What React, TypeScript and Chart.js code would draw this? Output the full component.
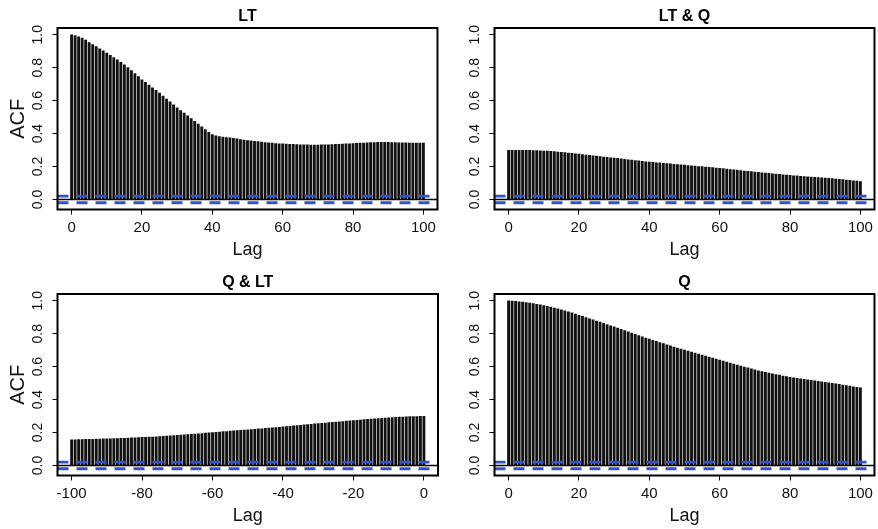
import React, { useEffect, useRef } from "react";
import { Chart, registerables } from "chart.js";

Chart.register(...registerables);

// ---------- data ----------
const TITLES = ["LT", "LT & Q", "Q & LT", "Q"];

const LAGS_POS = Array.from({ length: 101 }, (_, i) => i);
const LAGS_NEG = Array.from({ length: 101 }, (_, i) => i - 100);

const X_TICKS_POS = [0, 20, 40, 60, 80, 100];
const X_TICKS_NEG = [-100, -80, -60, -40, -20, 0];
const Y_TICKS = [0, 0.2, 0.4, 0.6, 0.8, 1.0];

const CI = 0.02;

const ACF_LT = [
  1.0, 0.995, 0.988, 0.98, 0.967, 0.953, 0.941, 0.928, 0.915, 0.902,
  0.889, 0.875, 0.861, 0.847, 0.833, 0.818, 0.8, 0.783, 0.765, 0.746,
  0.727, 0.711, 0.694, 0.678, 0.662, 0.646, 0.628, 0.61, 0.592, 0.574,
  0.556, 0.54, 0.524, 0.507, 0.491, 0.475, 0.458, 0.441, 0.424, 0.408,
  0.394, 0.386, 0.381, 0.378, 0.376, 0.374, 0.371, 0.368, 0.364, 0.361,
  0.358, 0.356, 0.353, 0.351, 0.349, 0.346, 0.344, 0.342, 0.34, 0.338,
  0.337, 0.336, 0.335, 0.334, 0.333, 0.332, 0.331, 0.331, 0.33, 0.33,
  0.33, 0.331, 0.331, 0.332, 0.333, 0.334, 0.335, 0.336, 0.337, 0.338,
  0.34, 0.341, 0.342, 0.343, 0.344, 0.345, 0.346, 0.347, 0.347, 0.347,
  0.347, 0.346, 0.345, 0.344, 0.344, 0.344, 0.343, 0.343, 0.343, 0.343,
  0.343,
];

const CCF_LT_Q = [
  0.298, 0.299, 0.299, 0.299, 0.299, 0.298, 0.298, 0.297, 0.296, 0.295,
  0.294, 0.293, 0.292, 0.29, 0.288, 0.286, 0.284, 0.282, 0.28, 0.277,
  0.275, 0.272, 0.27, 0.268, 0.265, 0.263, 0.26, 0.258, 0.256, 0.253,
  0.251, 0.249, 0.246, 0.244, 0.241, 0.239, 0.236, 0.234, 0.231, 0.229,
  0.227, 0.225, 0.223, 0.222, 0.22, 0.218, 0.216, 0.214, 0.212, 0.21,
  0.208, 0.206, 0.204, 0.202, 0.2, 0.199, 0.197, 0.195, 0.193, 0.191,
  0.189, 0.187, 0.185, 0.182, 0.18, 0.178, 0.176, 0.173, 0.171, 0.169,
  0.166, 0.164, 0.162, 0.16, 0.158, 0.156, 0.154, 0.152, 0.15, 0.148,
  0.146, 0.144, 0.143, 0.141, 0.139, 0.138, 0.136, 0.135, 0.133, 0.132,
  0.13, 0.128, 0.126, 0.124, 0.122, 0.12, 0.118, 0.116, 0.113, 0.111,
  0.108,
];

const CCF_Q_LT = [
  0.155, 0.156, 0.157, 0.157, 0.158, 0.158, 0.159, 0.16, 0.16, 0.161,
  0.161, 0.162, 0.163, 0.163, 0.164, 0.165, 0.166, 0.167, 0.168, 0.169,
  0.17, 0.171, 0.172, 0.173, 0.174, 0.175, 0.177, 0.178, 0.18, 0.181,
  0.183, 0.184, 0.186, 0.187, 0.189, 0.19, 0.192, 0.194, 0.196, 0.198,
  0.2, 0.201, 0.203, 0.205, 0.206, 0.208, 0.21, 0.211, 0.213, 0.215,
  0.217, 0.218, 0.22, 0.222, 0.223, 0.225, 0.227, 0.229, 0.23, 0.232,
  0.234, 0.236, 0.238, 0.24, 0.242, 0.244, 0.246, 0.248, 0.25, 0.252,
  0.254, 0.256, 0.258, 0.26, 0.262, 0.263, 0.265, 0.267, 0.269, 0.271,
  0.272, 0.274, 0.276, 0.278, 0.28, 0.281, 0.283, 0.284, 0.286, 0.287,
  0.289, 0.29, 0.292, 0.293, 0.294, 0.295, 0.296, 0.297, 0.297, 0.298,
  0.298,
];

const ACF_Q = [
  1.0, 0.998, 0.996, 0.994, 0.992, 0.989, 0.986, 0.983, 0.979, 0.975,
  0.971, 0.966, 0.961, 0.956, 0.951, 0.945, 0.939, 0.933, 0.926, 0.919,
  0.912, 0.905, 0.898, 0.891, 0.884, 0.877, 0.87, 0.863, 0.856, 0.848,
  0.841, 0.834, 0.826, 0.819, 0.811, 0.804, 0.796, 0.789, 0.781, 0.774,
  0.767, 0.76, 0.753, 0.746, 0.74, 0.733, 0.726, 0.719, 0.713, 0.706,
  0.7, 0.694, 0.688, 0.682, 0.676, 0.67, 0.664, 0.658, 0.652, 0.646,
  0.64, 0.634, 0.628, 0.622, 0.616, 0.61, 0.604, 0.598, 0.592, 0.586,
  0.58, 0.575, 0.57, 0.566, 0.561, 0.557, 0.552, 0.548, 0.543, 0.539,
  0.535, 0.532, 0.529, 0.526, 0.523, 0.52, 0.517, 0.514, 0.511, 0.508,
  0.505, 0.502, 0.499, 0.495, 0.492, 0.488, 0.485, 0.482, 0.478, 0.475,
  0.472,
];

// ---------- styling ----------
const FONT = "'Liberation Sans', Arial, Helvetica, sans-serif";
const BAR_COLOR = "#111111";
const CI_COLOR = "#3a50c6";

const CANVAS_W = 440;
const CANVAS_H = 263;

const boxPlugin = {
  id: "rbox",
  afterDatasetsDraw(chart: any) {
    const { ctx, chartArea: a } = chart;
    ctx.save();
    ctx.strokeStyle = "#000";
    ctx.lineWidth = 2;
    ctx.strokeRect(a.left, a.top, a.right - a.left, a.bottom - a.top);
    ctx.restore();
  },
};

type PanelProps = {
  title: string;
  lags: number[];
  values: number[];
  xMin: number;
  xMax: number;
  xTicks: number[];
  yTitle: boolean;
  left: number;
  top: number;
};

function Panel(p: PanelProps) {
  const ref = useRef<HTMLCanvasElement | null>(null);
  useEffect(() => {
    if (!ref.current) return;
    const bars = p.lags.map((l, i) => ({ x: l, y: p.values[i] }));
    const hLine = (y: number, order: number, color: string, width: number, dash: number[]) =>
      ({
        type: "line",
        data: [
          { x: p.xMin, y },
          { x: p.xMax, y },
        ],
        borderColor: color,
        borderWidth: width,
        borderDash: dash,
        pointRadius: 0,
        order,
      } as any);
    const chart = new Chart(ref.current, {
      type: "bar",
      data: {
        datasets: [
          hLine(CI, 1, CI_COLOR, 2.8, [11, 8]),
          hLine(-CI, 1, CI_COLOR, 2.8, [11, 8]),
          hLine(0, 2, "#000", 1.5, []),
          {
            type: "bar",
            data: bars,
            backgroundColor: BAR_COLOR,
            borderWidth: 0,
            barThickness: 2.2,
            order: 3,
          } as any,
        ],
      },
      options: {
        responsive: false,
        animation: false,
        devicePixelRatio: 1,
        layout: { padding: { left: 0, right: 2, top: 0, bottom: 0 } },
        plugins: {
          legend: { display: false },
          tooltip: { enabled: false },
          title: {
            display: true,
            text: p.title,
            fullSize: false,
            color: "#000",
            font: { family: FONT, size: 16, weight: "bold", lineHeight: 1.2 },
            padding: { top: 7, bottom: 1.8 },
          },
        },
        scales: {
          x: {
            type: "linear",
            min: p.xMin,
            max: p.xMax,
            offset: false,
            afterBuildTicks: (s: any) => {
              s.ticks = p.xTicks.map((v) => ({ value: v }));
            },
            afterFit: (s: any) => {
              s.height = 53.5;
            },
            grid: {
              display: true,
              offset: false,
              drawOnChartArea: false,
              drawTicks: true,
              tickLength: 5,
              tickColor: "#000",
              tickWidth: 1,
            },
            border: { display: false },
            ticks: {
              autoSkip: false,
              maxRotation: 0,
              minRotation: 0,
              padding: 4,
              color: "#111",
              font: { family: FONT, size: 15 },
              callback: (v: any) => String(v),
            },
            title: {
              display: true,
              text: "Lag",
              color: "#111",
              font: { family: FONT, size: 18, lineHeight: 1.2 },
              padding: { top: 0, bottom: 2 },
            },
          },
          y: {
            type: "linear",
            min: -0.061,
            max: 1.041,
            afterBuildTicks: (s: any) => {
              s.ticks = Y_TICKS.map((v) => ({ value: v }));
            },
            afterFit: (s: any) => {
              s.width = 57.5;
            },
            grid: {
              display: true,
              drawOnChartArea: false,
              drawTicks: true,
              tickLength: 5,
              tickColor: "#000",
              tickWidth: 1,
            },
            border: { display: false },
            ticks: {
              autoSkip: false,
              minRotation: 90,
              maxRotation: 90,
              crossAlign: "center",
              padding: 5,
              color: "#111",
              font: { family: FONT, size: 14 },
              callback: (v: any) => Number(v).toFixed(1),
            },
            title: {
              display: p.yTitle,
              text: "ACF",
              color: "#111",
              font: { family: FONT, size: 20, lineHeight: 1.2 },
              padding: { top: 6, bottom: 0 },
            },
          },
        },
      },
      plugins: [boxPlugin],
    } as any);
    return () => chart.destroy();
  }, []);
  return (
    <canvas
      ref={ref}
      width={CANVAS_W}
      height={CANVAS_H}
      style={{
        position: "absolute",
        left: p.left,
        top: p.top,
        width: CANVAS_W,
        height: CANVAS_H,
      }}
    />
  );
}

export default function App() {
  return (
    <div
      style={{
        position: "absolute",
        left: 0,
        top: 0,
        width: 878,
        height: 529,
        background: "#fff",
        overflow: "hidden",
      }}
    >
      <Panel title={TITLES[0]} lags={LAGS_POS} values={ACF_LT} xMin={-4} xMax={104} xTicks={X_TICKS_POS} yTitle={true} left={0} top={0} />
      <Panel title={TITLES[1]} lags={LAGS_POS} values={CCF_LT_Q} xMin={-4} xMax={104} xTicks={X_TICKS_POS} yTitle={false} left={437} top={0} />
      <Panel title={TITLES[2]} lags={LAGS_NEG} values={CCF_Q_LT} xMin={-104} xMax={4} xTicks={X_TICKS_NEG} yTitle={true} left={0} top={266} />
      <Panel title={TITLES[3]} lags={LAGS_POS} values={ACF_Q} xMin={-4} xMax={104} xTicks={X_TICKS_POS} yTitle={false} left={437} top={266} />
    </div>
  );
}
